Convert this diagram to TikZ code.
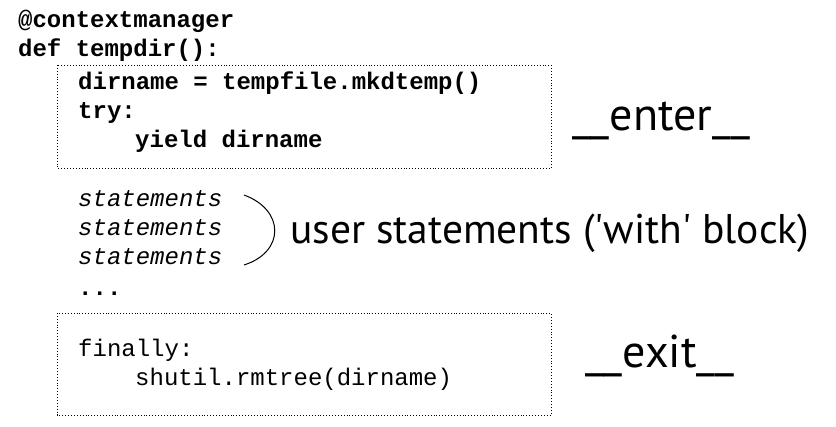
\documentclass[tikz,border=0pt]{standalone}
\usepackage{fontspec}
\setmainfont{PT Sans}
\setmonofont{Liberation Mono}
\begin{document}
\begin{tikzpicture}[x=1pt,y=-1pt,
  code/.style={anchor=base west,inner sep=0pt,font=\ttfamily\bfseries\fontsize{24}{29}\selectfont},
  plaincode/.style={anchor=base west,inner sep=0pt,font=\ttfamily\fontsize{24}{29}\selectfont},
  stmt/.style={anchor=base west,inner sep=0pt,font=\ttfamily\itshape\fontsize{24}{29}\selectfont},
  tag/.style={anchor=base west,inner sep=0pt,font=\fontsize{46}{52}\selectfont},
  block/.style={draw,dotted,line width=0.9pt}]
\useasboundingbox (0,0) rectangle (836,427);
\node[code] (deco) at (18,28) {@contextmanager};
\node[code] (defline) at (18,57) {def tempdir():};
\draw[block] (57,65) rectangle (551,168);
\node[code] (mkdir) at (78,90) {dirname = tempfile.mkdtemp()};
\node[code] (try) at (78,119) {try:};
\node[code] (yield) at (135,148) {yield dirname};
\node[tag] (enter) at (572,131) {\_\_enter\_\_};
\node[stmt] (stmtA) at (78,207) {statements};
\node[stmt] (stmtB) at (78,236) {statements};
\node[stmt] (stmtC) at (78,265) {statements};
\node[code] (dots) at (78,296) {...};
\coordinate (brtop) at (244,195);
\coordinate (brbot) at (244,265);
\draw[line width=1pt] (brtop) .. controls (285,210) and (285,252) .. (brbot);
\node[tag,font=\fontsize{41.5}{48}\selectfont] (user) at (290,244) {user statements (\textquotesingle with\textquotesingle\ block)};
\draw[block] (57,313) rectangle (551,415);
\node[plaincode] (fin) at (78,357) {finally:};
\node[plaincode] (rm) at (135,386) {shutil.rmtree(dirname)};
\node[tag] (exit) at (585,368) {\_\_exit\_\_};
\end{tikzpicture}
\end{document}
